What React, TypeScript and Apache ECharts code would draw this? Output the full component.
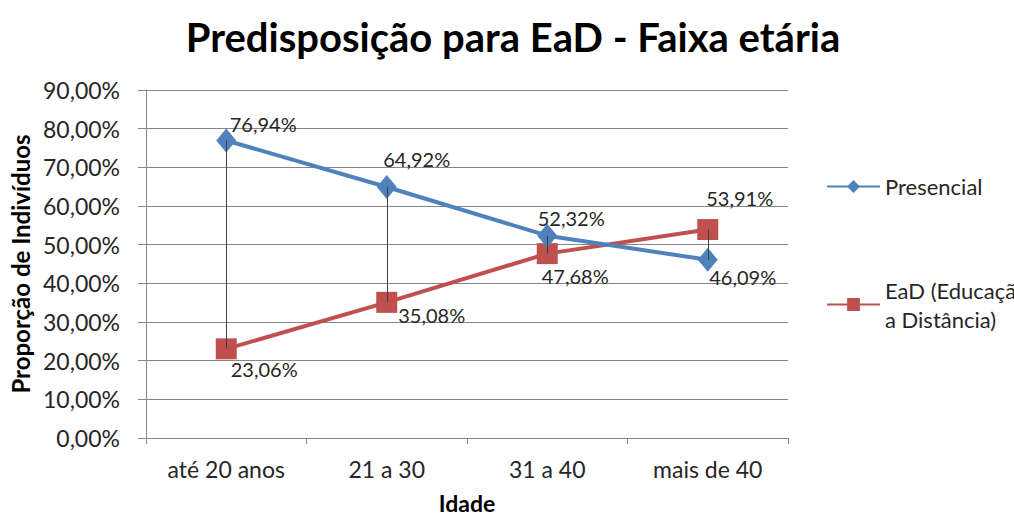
import React, { useEffect, useRef } from "react";
import * as echarts from "echarts";

const categories = ["até 20 anos", "21 a 30", "31 a 40", "mais de 40"];
const presencial = [76.94, 64.92, 52.32, 46.09];
const ead = [23.06, 35.08, 47.68, 53.91];
const yTicks = [0, 10, 20, 30, 40, 50, 60, 70, 80, 90];

const presencialLabelOffsets = [
  [37, -16],
  [30, -28],
  [24, -18],
  [35, 17],
];
const eadLabelOffsets = [
  [38, 20],
  [45, 13],
  [28, 22],
  [32, -32],
];

const FONT = "Lato, 'Noto Sans', sans-serif";
const fmt = (v: number) => v.toFixed(2).replace(".", ",") + "%";
const PRES = "Presencial";
const EAD = "EaD (Educação a Distância)";

export default function App() {
  const ref = useRef<HTMLDivElement>(null);
  useEffect(() => {
    if (!ref.current) return;
    const chart = echarts.init(ref.current, undefined, { renderer: "svg" });
    const labelBase = {
      show: true,
      position: "inside",
      align: "center",
      verticalAlign: "middle",
      fontFamily: FONT,
      fontSize: 20,
      color: "#262626",
      formatter: (p: any) => fmt(p.value),
    };
    const mkData = (vals: number[], offs: number[][]) =>
      vals.map((v, i) => ({
        value: v,
        label: { ...labelBase, offset: offs[i] },
      }));
    const legendText = {
      fontFamily: FONT,
      fontSize: 22,
      color: "#262626",
      lineHeight: 29,
    };
    chart.setOption({
      animation: false,
      backgroundColor: "#ffffff",
      title: {
        text: "Predisposição para EaD - Faixa etária",
        left: 508,
        textAlign: "center",
        top: 12,
        textStyle: {
          fontFamily: FONT,
          fontSize: 40,
          fontWeight: "bold",
          color: "#000000",
        },
      },
      grid: {
        left: 146,
        right: 226,
        top: 90,
        bottom: 78,
        containLabel: false,
        outerBoundsMode: "none",
      },
      legend: [
        {
          orient: "vertical",
          left: 826,
          top: 172,
          padding: 0,
          itemWidth: 53,
          itemHeight: 16,
          textStyle: legendText,
          data: [PRES],
        },
        {
          orient: "vertical",
          left: 826,
          top: 261,
          padding: 0,
          itemWidth: 53,
          itemHeight: 16,
          textStyle: { ...legendText, padding: [29, 0, 0, 0] },
          formatter: () => "EaD (Educação\na Distância)",
          data: [EAD],
        },
      ],
      xAxis: {
        type: "category",
        data: categories,
        name: "Idade",
        nameLocation: "middle",
        nameGap: 53,
        nameTextStyle: {
          fontFamily: FONT,
          fontSize: 23,
          lineHeight: 23,
          fontWeight: "bold",
          color: "#000",
        },
        axisLine: { lineStyle: { color: "#868686", width: 1 } },
        axisTick: { show: true, length: 6, lineStyle: { color: "#868686" } },
        axisLabel: {
          fontFamily: FONT,
          fontSize: 23,
          color: "#262626",
          margin: 19,
        },
      },
      yAxis: {
        type: "value",
        min: yTicks[0],
        max: yTicks[yTicks.length - 1],
        interval: 10,
        name: "Proporção de Indivíduos",
        nameLocation: "middle",
        nameGap: 109,
        nameTextStyle: {
          fontFamily: FONT,
          fontSize: 24,
          fontWeight: "bold",
          color: "#000",
        },
        axisLine: { show: true, lineStyle: { color: "#868686", width: 1 } },
        axisTick: { show: true, length: 8, lineStyle: { color: "#868686" } },
        splitLine: { show: true, lineStyle: { color: "#868686", width: 1 } },
        axisLabel: {
          fontFamily: FONT,
          fontSize: 23,
          color: "#262626",
          margin: 26,
          formatter: (v: number) => fmt(v),
        },
      },
      series: [
        {
          name: PRES,
          type: "line",
          data: mkData(presencial, presencialLabelOffsets),
          symbol: "diamond",
          symbolSize: [20, 24],
          itemStyle: { color: "#4F81BD" },
          lineStyle: { color: "#4F81BD", width: 4 },
          z: 3,
          markLine: {
            silent: true,
            symbol: "none",
            label: { show: false },
            lineStyle: { color: "#404040", width: 1, type: "solid" },
            z: 5,
            data: categories.map((c, i) => [
              { coord: [c, presencial[i]] },
              { coord: [c, ead[i]] },
            ]),
          },
        },
        {
          name: EAD,
          type: "line",
          data: mkData(ead, eadLabelOffsets),
          symbol: "rect",
          symbolSize: 21,
          itemStyle: { color: "#C0504D" },
          lineStyle: { color: "#C0504D", width: 4 },
          z: 2,
        },
      ],
    });
    return () => chart.dispose();
  }, []);
  return (
    <div
      ref={ref}
      style={{ position: "absolute", left: 0, top: 0, width: 1014, height: 516 }}
    />
  );
}
